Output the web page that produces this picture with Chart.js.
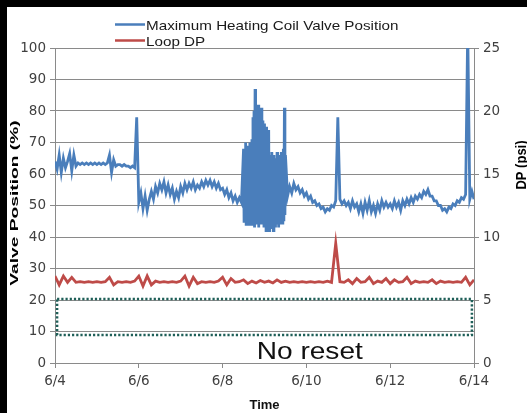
<!DOCTYPE html>
<html>
<head>
<meta charset="utf-8">
<script src="https://cdn.jsdelivr.net/npm/chart.js@4.4.0/dist/chart.umd.min.js"></script>
<style>
html, body { margin: 0; padding: 0; background: #fff; }
#wrap { position: relative; width: 527px; height: 413px; }
</style>
</head>
<body>
<div id="wrap"><canvas id="grafica" width="527" height="413"></canvas></div>
<script>
// valve position (%), 6/4.00 - 6/8.45, one reading every 0.05 day
const valveAStart = 4, valveStep = 0.05;
const valveA = [
  64, 61.5, 66, 60.5, 65, 62, 64, 66.5, 61, 66, 62.5,
  63.5, 63, 63.5, 63, 63.5, 63, 63.5, 63, 63.5, 63, 63.5, 63, 63.5, 63, 63.5,
  66, 60.5, 64.5,
  62.5, 63, 63, 62.5, 63, 62.5, 62.5, 62, 62.5, 62,
  78,
  51, 54, 49, 53, 48.5, 52, 54.5, 52, 56, 54, 57, 55, 57.5, 54, 56.5, 53.5, 55.5, 52, 54.5, 52.5,
  56, 54, 57, 55, 57, 55.5, 57.5, 55, 56.5, 55.5, 57.5, 56, 58, 56.5, 58, 56, 57.5, 55.5, 57, 55,
  55.5, 53.5, 55, 52.5, 54, 51.5, 53, 51, 52.5, 51
];

// oscillating stretch 6/8.50 - 6/9.50, one reading every 0.0125 day
const burstStart = 8.5, burstStep = 0.0125;
const burst = [
  68, 45, 66, 47, 70, 44, 67, 46, 69, 45, 65, 44, 70, 46, 68, 45, 71,
  44, 78, 46, 80, 43, 87, 45, 81, 44, 79, 46, 82, 43, 80, 45, 78, 44, 81, 46, 77,
  44, 74, 43, 76, 45, 73, 42, 75, 44, 72, 43, 74,
  42, 66, 44, 64, 43, 67, 45, 65, 42, 66, 44, 63, 43, 65, 45, 67, 44, 64, 43, 66, 45, 65, 44, 67, 46, 66, 44, 68, 45,
  81, 47, 66
];

// valve position (%), 6/9.55 - 6/14.00, one reading every 0.05 day
const valveBStart = 9.55;
const valveB = [
  53, 56, 54, 57, 55, 56, 54, 55, 53,
  54, 52, 53, 51, 51.5, 50, 50.5, 49, 49.5, 48, 49, 48.5, 50, 49.5, 51.5,
  78,
  52, 50.5, 51.5, 50,
  51, 49, 51.5, 49.5, 50.5, 48, 50.5, 47.5, 51, 48.5, 51.5, 48, 50, 47.5, 50.5, 48.5, 51.5, 49.5, 51, 49.5,
  50.5, 49, 51.5, 49.5, 51, 48.5, 51.5, 50, 52, 50.5, 52.5, 51, 53, 52, 53.5, 52.5, 54.5, 53.5, 55, 53,
  53, 51.5, 51.5, 50, 50, 48.5, 49, 48, 49.5, 49, 50.5, 50, 51.5, 51, 52.5, 52, 53.5, 106, 52, 54.5,
  52
];

// loop DP (psi), one reading every 0.1 day starting 6/4
const dpStart = 4, dpStep = 0.1;
const loopDp = [
  6.9, 6.2, 6.9, 6.4, 6.8, 6.4, 6.45, 6.4, 6.45, 6.4,
  6.45, 6.4, 6.45, 6.8, 6.2, 6.45, 6.4, 6.45, 6.4, 6.5,
  6.9, 6.1, 6.9, 6.2, 6.5, 6.4, 6.45, 6.4, 6.45, 6.4,
  6.5, 6.9, 6.1, 6.8, 6.3, 6.45, 6.4, 6.45, 6.4, 6.5,
  6.8, 6.2, 6.7, 6.4, 6.45, 6.6, 6.3, 6.5, 6.35, 6.55,
  6.4, 6.5, 6.35, 6.6, 6.4, 6.5, 6.4, 6.45, 6.4, 6.45,
  6.4, 6.45, 6.4, 6.45, 6.4, 6.5, 6.4, 9.5, 6.45, 6.4,
  6.6, 6.3, 6.7, 6.4, 6.45, 6.8, 6.3, 6.5, 6.4, 6.7,
  6.3, 6.6, 6.4, 6.45, 6.8, 6.3, 6.5, 6.4, 6.45, 6.4,
  6.6, 6.3, 6.5, 6.4, 6.45, 6.4, 6.45, 6.4, 6.8, 6.2,
  6.6
];

// dotted "no reset" box (days, valve %)
const boxDays = [4.05, 13.95, 13.95, 4.05, 4.05];
const boxVals = [20.3, 20.3, 8.9, 8.9, 20.3];

const seriesLabels = ['Maximum Heating Coil Valve Position', 'Loop DP'];
const seriesColors = ['#4a7ebb', '#be4b48'];
const boxColor = '#1f5f58';
const gridColor = '#8a8a8a';
const tickFont = { family: 'DejaVu Sans', size: 13.5 };
const textStretch = 1.17;

function series(start, step, vals) {
  return vals.map((v, i) => ({ x: start + i * step, y: v }));
}

function stretchedText(ctx, text, x, y) {
  ctx.save();
  ctx.translate(x, y);
  ctx.scale(textStretch, 1);
  ctx.fillText(text, 0, 0);
  ctx.restore();
}

function verticalText(ctx, text, x, y, along, across) {
  ctx.save();
  ctx.translate(x, y);
  ctx.rotate(-Math.PI / 2);
  ctx.scale(along, across);
  ctx.textAlign = 'center';
  ctx.textBaseline = 'middle';
  ctx.fillText(text, 0, 0);
  ctx.restore();
}

const framePlugin = {
  id: 'frame',
  beforeDraw(chart) {
    const ctx = chart.ctx;
    ctx.save();
    ctx.fillStyle = '#fff';
    ctx.fillRect(0, 0, chart.width, chart.height);
    ctx.fillStyle = '#000';
    ctx.fillRect(0, 0, chart.width, 7);
    ctx.fillRect(0, 0, 7, chart.height);
    ctx.restore();
  },
  afterDraw(chart) {
    const ctx = chart.ctx;
    ctx.save();
    // legend
    ctx.font = '13px "Liberation Sans", Arial, sans-serif';
    ctx.textBaseline = 'alphabetic';
    ctx.textAlign = 'left';
    const rows = [24.5, 40.5];
    for (let i = 0; i < 2; i++) {
      ctx.strokeStyle = seriesColors[i];
      ctx.lineWidth = 2.5;
      ctx.beginPath();
      ctx.moveTo(115, rows[i]);
      ctx.lineTo(145, rows[i]);
      ctx.stroke();
      ctx.fillStyle = '#1a1a1a';
      stretchedText(ctx, seriesLabels[i], 146, rows[i] + 5.5);
    }
    // axis titles
    ctx.font = 'bold 12px "Liberation Sans", Arial, sans-serif';
    ctx.fillStyle = '#000';
    verticalText(ctx, 'Valve Position (%)', 15, 203, 1.6, 0.95);
    ctx.font = 'bold 13px "Liberation Sans", Arial, sans-serif';
    verticalText(ctx, 'DP (psi)', 522, 165, 1, 1.1);
    ctx.restore();

    // annotation inside the box
    const xs = chart.scales.x, ys = chart.scales.y;
    ctx.save();
    ctx.font = '24px "Liberation Sans", Arial, sans-serif';
    ctx.fillStyle = '#111';
    ctx.textAlign = 'center';
    ctx.textBaseline = 'alphabetic';
    stretchedText(ctx, 'No reset', xs.getPixelForValue(10.08), ys.getPixelForValue(1.3));
    ctx.restore();
  }
};

const graph = document.querySelector('#grafica');

const valvePoints = series(valveAStart, valveStep, valveA)
  .concat(series(burstStart, burstStep, burst))
  .concat(series(valveBStart, valveStep, valveB));

const data = {
  datasets: [
    {
      label: seriesLabels[0],
      data: valvePoints,
      yAxisID: 'y',
      borderColor: seriesColors[0],
      borderWidth: 2.8,
      pointRadius: 0,
      tension: 0
    },
    {
      label: seriesLabels[1],
      data: series(dpStart, dpStep, loopDp),
      yAxisID: 'y2',
      borderColor: seriesColors[1],
      borderWidth: 2.8,
      pointRadius: 0,
      tension: 0
    },
    {
      label: 'box',
      data: boxDays.map((d, i) => ({ x: d, y: boxVals[i] })),
      yAxisID: 'y',
      borderColor: boxColor,
      borderWidth: 2.5,
      borderDash: [2.2, 2],
      pointRadius: 0,
      tension: 0
    }
  ]
};

const config = {
  type: 'line',
  data: data,
  plugins: [framePlugin],
  options: {
    responsive: false,
    animation: false,
    devicePixelRatio: 1,
    layout: { padding: { left: 7, top: 48, right: 0, bottom: 0 } },
    plugins: { legend: { display: false }, tooltip: { enabled: false } },
    scales: {
      x: {
        type: 'linear',
        min: 4,
        max: 14,
        ticks: { stepSize: 2, color: '#404040', font: tickFont, padding: 5, maxRotation: 0,
          callback: v => '6/' + v },
        grid: { drawOnChartArea: false, drawTicks: true, tickLength: 5, tickColor: gridColor },
        border: { color: gridColor },
        title: { display: true, text: 'Time', color: '#111',
          font: { family: 'Liberation Sans', size: 13, weight: 'bold' }, padding: 0 },
        afterFit: s => { s.height = 50; }
      },
      y: {
        position: 'left',
        min: 0,
        max: 100,
        ticks: { stepSize: 10, color: '#404040', font: tickFont, padding: 4 },
        grid: { color: gridColor, tickLength: 5, tickColor: gridColor },
        border: { color: gridColor },
        afterFit: s => { s.width = 48; }
      },
      y2: {
        position: 'right',
        min: 0,
        max: 25,
        ticks: { stepSize: 5, color: '#404040', font: tickFont, padding: 4 },
        grid: { drawOnChartArea: false, tickLength: 5, tickColor: gridColor },
        border: { color: gridColor },
        afterFit: s => { s.width = 53; }
      }
    }
  }
};

new Chart(graph, config);
</script>
</body>
</html>
